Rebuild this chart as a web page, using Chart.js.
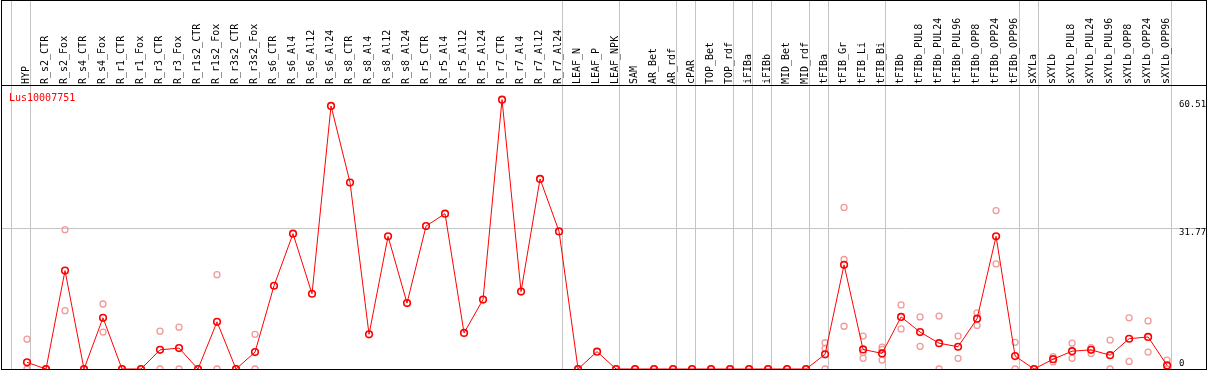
<!DOCTYPE html>
<html>
<head>
<meta charset="utf-8">
<script src="https://cdn.jsdelivr.net/npm/chart.js@4"></script>
<style>
  html, body { margin: 0; padding: 0; background: #fff; }
  #wrap { width: 1209px; height: 370px; position: relative; }
</style>
</head>
<body>
<div id="wrap"><canvas id="chart"></canvas></div>
<script>
const TITLE = 'Lus10007751';

const CATEGORIES = [
  'HYP', 'R_s2_CTR', 'R_s2_Fox', 'R_s4_CTR', 'R_s4_Fox', 'R_r1_CTR', 'R_r1_Fox', 'R_r3_CTR', 'R_r3_Fox',
  'R_r1s2_CTR', 'R_r1s2_Fox', 'R_r3s2_CTR', 'R_r3s2_Fox', 'R_s6_CTR', 'R_s6_Al4', 'R_s6_Al12', 'R_s6_Al24',
  'R_s8_CTR', 'R_s8_Al4', 'R_s8_Al12', 'R_s8_Al24', 'R_r5_CTR', 'R_r5_Al4', 'R_r5_Al12', 'R_r5_Al24',
  'R_r7_CTR', 'R_r7_Al4', 'R_r7_Al12', 'R_r7_Al24', 'LEAF_N', 'LEAF_P', 'LEAF_NPK', 'SAM', 'AR_Bet', 'AR_rdf',
  'cPAR', 'TOP_Bet', 'TOP_rdf', 'iFIBa', 'iFIBb', 'MID_Bet', 'MID_rdf', 'tFIBa', 'tFIB_Gr', 'tFIB_Li', 'tFIB_Bi',
  'tFIBb', 'tFIBb_PUL8', 'tFIBb_PUL24', 'tFIBb_PUL96', 'tFIBb_OPP8', 'tFIBb_OPP24', 'tFIBb_OPP96',
  'sXYLa', 'sXYLb', 'sXYLb_PUL8', 'sXYLb_PUL24', 'sXYLb_PUL96', 'sXYLb_OPP8', 'sXYLb_OPP24', 'sXYLb_OPP96'
];

// mean expression per sample
const MEANS = [
  1.5, 0, 22.1, 0, 11.5, 0, 0, 4.3, 4.7,
  0, 10.6, 0, 3.8, 18.7, 30.4, 16.9, 59.1,
  41.9, 7.8, 29.8, 14.8, 32.1, 34.9, 8.1, 15.6,
  60.51, 17.4, 42.7, 30.9, 0, 3.9, 0, 0, 0, 0,
  0, 0, 0, 0, 0, 0, 0, 3.3, 23.4, 4.4, 3.5,
  11.7, 8.3, 5.8, 5.0, 11.3, 29.8, 2.9,
  0, 2.2, 4.0, 4.3, 3.1, 6.8, 7.2, 0.8
];

// individual replicates (null = no replicate shown)
const REP_A = [
  6.7, 0, 31.3, 0, 14.6, 0, 0, 8.5, 9.4,
  0, 21.2, 0, 7.8, null, null, null, null,
  null, null, null, null, null, null, null, null,
  null, null, null, null, 0, null, 0, 0, 0, 0,
  0, 0, 0, 0, 0, 0, 0, 5.9, 36.3, 7.4, 4.9,
  14.4, 11.7, 11.9, 7.4, 12.6, 35.6, 6.0,
  0, 2.8, 5.8, 4.8, 6.5, 11.5, 10.8, 2.0
];
const REP_B = [
  0, 0, 13.1, 0, 8.3, 0, 0, 0, 0,
  0, 0, 0, 0, null, null, null, null,
  null, null, null, null, null, null, null, null,
  null, null, null, null, 0, null, 0, 0, 0, 0,
  0, 0, 0, 0, 0, 0, 0, 4.6, 24.6, 3.7, 4.4,
  9.0, 5.1, 0, 2.4, 9.8, 23.6, 0,
  0, 1.6, 2.4, 3.5, 0, 1.7, 3.8, 0
];
const REP_C = [
  null, null, null, null, null, null, null, null, null,
  null, null, null, null, null, null, null, null,
  null, null, null, null, null, null, null, null,
  null, null, null, null, null, null, null, null, null, null,
  null, null, null, null, null, null, null, 0, 9.6, 2.4, 2.0,
  null, null, null, null, null, null, null,
  null, null, null, null, null, null, null, null
];

const Y_TICKS = [0, 31.77, 60.51];
const Y_GRID = [31.77];
// group separators: drawn just right of these sample indices
const SEPARATORS = [-1, 0, 28, 31, 34, 35, 37, 38, 39, 41, 42, 45, 52, 53, 60];

const FONT = '10px "DejaVu Sans Mono", monospace';
const TICK_FONT = '9px "DejaVu Sans Mono", monospace';
const toPts = arr => arr.map((v, i) => v == null ? null : { x: i, y: v }).filter(Boolean);

function repSet(arr) {
  return {
    type: 'scatter', data: toPts(arr), showLine: false,
    pointStyle: 'circle', pointRadius: 3, pointBorderWidth: 1.3,
    pointBorderColor: '#f09a9a', pointBackgroundColor: 'rgba(0,0,0,0)', order: 2
  };
}

const framePlugin = {
  id: 'frame',
  beforeDatasetsDraw(chart) {
    const { ctx, chartArea: a, scales: { x, y } } = chart;
    ctx.save();
    ctx.strokeStyle = '#c4c4c4';
    ctx.lineWidth = 1;
    SEPARATORS.forEach(i => {
      const px = Math.round(x.getPixelForValue(i + 0.18)) + 0.5;
      ctx.beginPath(); ctx.moveTo(px, 0); ctx.lineTo(px, a.bottom); ctx.stroke();
    });
    Y_GRID.forEach(v => {
      const py = Math.round(y.getPixelForValue(v)) + 0.5;
      ctx.beginPath(); ctx.moveTo(1, py); ctx.lineTo(1207, py); ctx.stroke();
    });
    // sample labels, vertical
    ctx.fillStyle = '#000';
    ctx.font = FONT;
    ctx.textAlign = 'left';
    ctx.textBaseline = 'alphabetic';
    CATEGORIES.forEach((c, i) => {
      ctx.save();
      ctx.translate(x.getPixelForValue(i) + 2, 84);
      ctx.rotate(-Math.PI / 2);
      ctx.fillText(c, 0, 0);
      ctx.restore();
    });
    // value labels on the right
    ctx.font = TICK_FONT;
    Y_TICKS.forEach(v => {
      const py = y.getPixelForValue(v);
      if (v === 0) { ctx.textBaseline = 'alphabetic'; ctx.fillText(String(v), 1179, py - 3); }
      else { ctx.textBaseline = 'top'; ctx.fillText(String(v), 1179, py + 1); }
    });
    ctx.font = FONT;
    ctx.fillStyle = '#ff0000';
    ctx.textBaseline = 'alphabetic';
    ctx.fillText(TITLE, 9, 101);
    // frame
    ctx.strokeStyle = '#000';
    ctx.strokeRect(1.5, 0.5, 1205, 369);
    ctx.beginPath(); ctx.moveTo(1, 85.5); ctx.lineTo(1207, 85.5); ctx.stroke();
    ctx.restore();
  }
};

new Chart(document.getElementById('chart'), {
  type: 'line',
  data: {
    datasets: [
      {
        data: toPts(MEANS), borderColor: '#ff0000', borderWidth: 1, tension: 0,
        pointStyle: 'circle', pointRadius: 3.3, pointBorderWidth: 1.6,
        pointBorderColor: '#ff0000', pointBackgroundColor: 'rgba(0,0,0,0)', order: 1
      },
      repSet(REP_A), repSet(REP_B), repSet(REP_C)
    ]
  },
  options: {
    responsive: true, maintainAspectRatio: false, animation: false,
    layout: { autoPadding: false, padding: { left: 2, right: 2, top: 85, bottom: 1 } },
    plugins: { legend: { display: false }, tooltip: { enabled: false } },
    scales: {
      x: { type: 'linear', display: false, min: -1.316, max: 62.1 },
      y: { type: 'linear', display: false, min: 0, max: 63.8 }
    }
  },
  plugins: [framePlugin]
});
</script>
</body>
</html>
